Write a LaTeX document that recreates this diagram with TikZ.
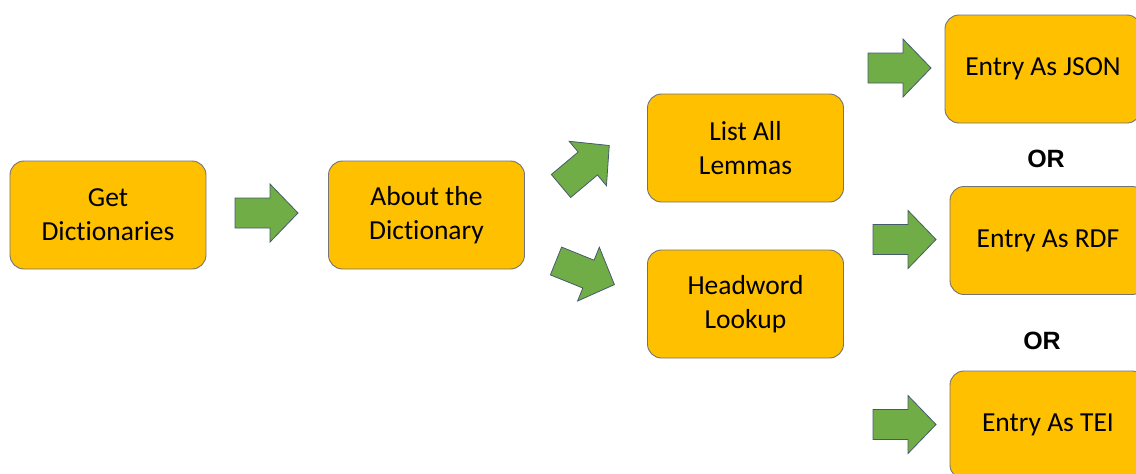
\documentclass[tikz,border=0pt]{standalone}
\usepackage{fontspec}
\setmainfont{Carlito}[Ligatures=NoCommon]
\newfontfamily\orfont{Liberation Sans}
\begin{document}
\begin{tikzpicture}[x=1pt,y=-1pt,
  box/.style={draw=black!55, line width=0.9pt, fill={rgb,255:red,255;green,192;blue,0},
    rounded corners=14pt, minimum width=196pt, minimum height=108pt,
    align=center, font=\fontsize{27.5}{34}\selectfont, inner sep=0pt},
  orlabel/.style={font=\orfont\bfseries\fontsize{25}{28}\selectfont},
  barrow/.pic={\draw[draw={rgb,255:red,70;green,90;blue,110}, line width=0.8pt,
      fill={rgb,255:red,112;green,173;blue,71}]
      (0,-15)--(35,-15)--(35,-29)--(63,0)--(35,29)--(35,15)--(0,15)--cycle;}
  ]
\useasboundingbox (0,0) rectangle (1136,474);
\node[box] (get) at (108,215) {Get\\Dictionaries};
\node[box] (about) at (426.5,215) {About the\\Dictionary};
\node[box] (list) at (745.5,148) {List All\\Lemmas};
\node[box] (head) at (745.5,304) {Headword\\Lookup};
\node[box] (json) at (1043,69) {Entry As JSON};
\node[box] (rdf) at (1048,240.5) {Entry As RDF};
\node[box] (tei) at (1048,425) {Entry As TEI};
\node[orlabel] (or1) at (1046,159) {OR};
\node[orlabel] (or2) at (1042,341) {OR};
\pic at (235,213) {barrow};
\pic[rotate=40] at (561,186) {barrow};
\pic[rotate=-22] at (556,261) {barrow};
\pic at (868,68) {barrow};
\pic at (873,239.5) {barrow};
\pic at (873,424.5) {barrow};
\end{tikzpicture}
\end{document}
